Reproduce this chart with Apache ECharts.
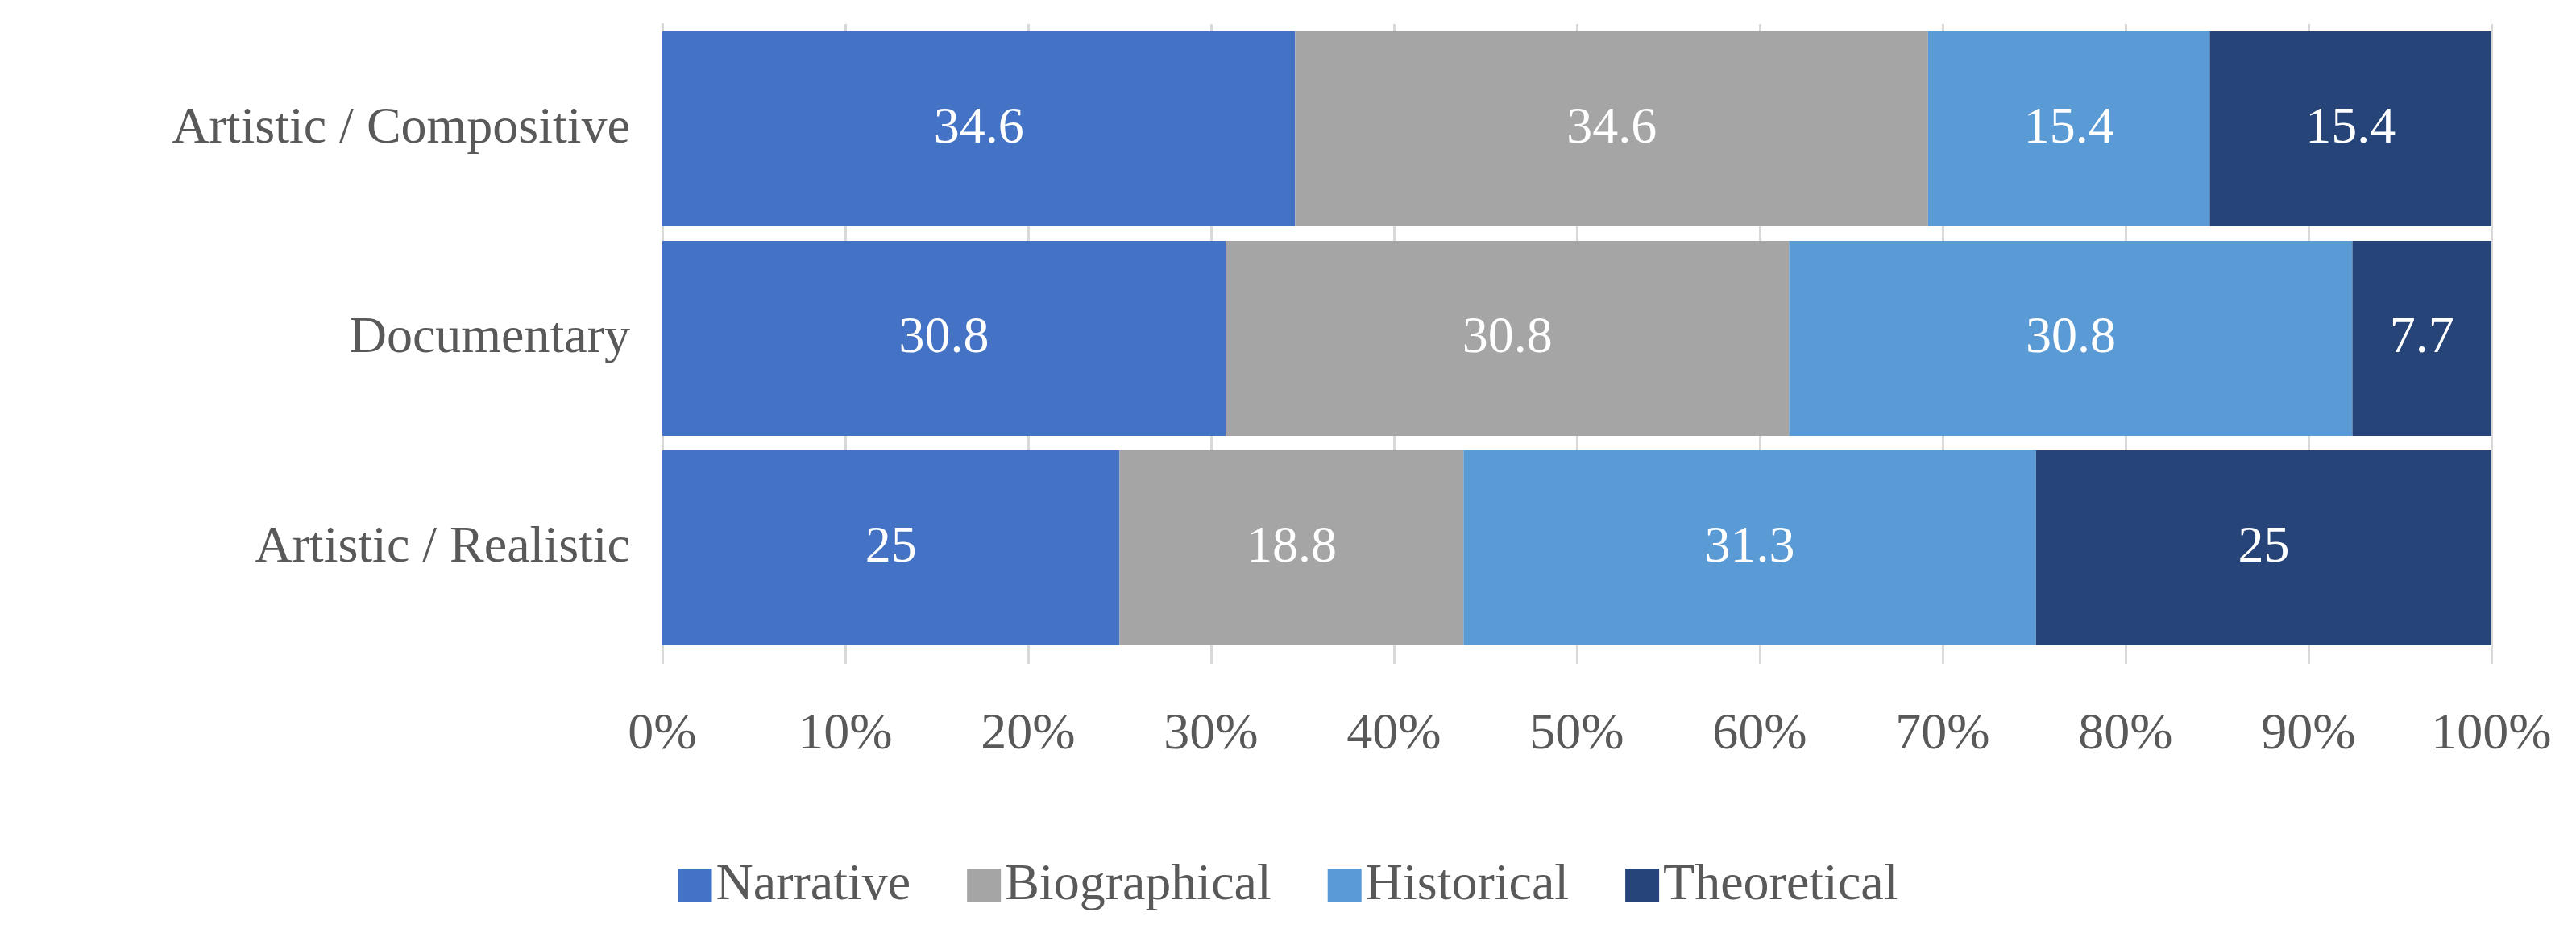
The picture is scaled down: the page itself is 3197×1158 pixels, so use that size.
<!DOCTYPE html>
<html>
<head>
<meta charset="utf-8">
<script src="https://cdn.jsdelivr.net/npm/echarts@6/dist/echarts.min.js"></script>
<style>html,body{margin:0;padding:0;background:#fff}#c{width:3197px;height:1158px}</style>
</head>
<body>
<div id="c"></div>
<script>
// 数据
var categories = ['Artistic / Compositive', 'Documentary', 'Artistic / Realistic'];
var seriesNames = ['Narrative', 'Biographical', 'Historical', 'Theoretical'];
var narrative = [34.6, 30.8, 25];
var biographical = [34.6, 30.8, 18.8];
var historical = [15.4, 30.8, 31.3];
var theoretical = [15.4, 7.7, 25];
var colors = ['#4472C4', '#A5A5A5', '#5B9BD5', '#264478'];
var values = [narrative, biographical, historical, theoretical];

var font = '"Liberation Serif", "DejaVu Serif", serif';
var chart = echarts.init(document.getElementById('c'));
chart.setOption({
    animation: false,
    textStyle: { fontFamily: font },
    grid: { left: 822, right: 105, top: 30, bottom: 348 },
    legend: {
        bottom: 22,
        left: 'center',
        itemWidth: 42,
        itemHeight: 42,
        itemGap: 70,
        icon: 'rect',
        textStyle: { fontSize: 64, color: '#595959', fontFamily: font },
        data: seriesNames
    },
    xAxis: {
        type: 'value',
        min: 0,
        max: 100,
        interval: 10,
        axisLabel: { formatter: '{value}%', fontSize: 64, color: '#595959', margin: 70 },
        axisLine: { show: false },
        axisTick: { show: true, length: 14, lineStyle: { color: '#d9d9d9', width: 3 } },
        splitLine: { show: true, lineStyle: { color: '#d9d9d9', width: 3 } }
    },
    yAxis: {
        type: 'category',
        inverse: true,
        data: categories,
        axisLabel: { fontSize: 64, color: '#595959', margin: 40 },
        axisLine: { show: true, lineStyle: { color: '#d9d9d9', width: 3 } },
        axisTick: { show: false }
    },
    series: seriesNames.map(function (name, i) {
        return {
            name: name,
            type: 'bar',
            stack: 'total',
            barCategoryGap: '7%',
            itemStyle: { color: colors[i] },
            label: { show: true, position: 'inside', color: '#fff', fontSize: 64, fontFamily: font },
            data: values[i]
        };
    })
});
</script>
</body>
</html>
